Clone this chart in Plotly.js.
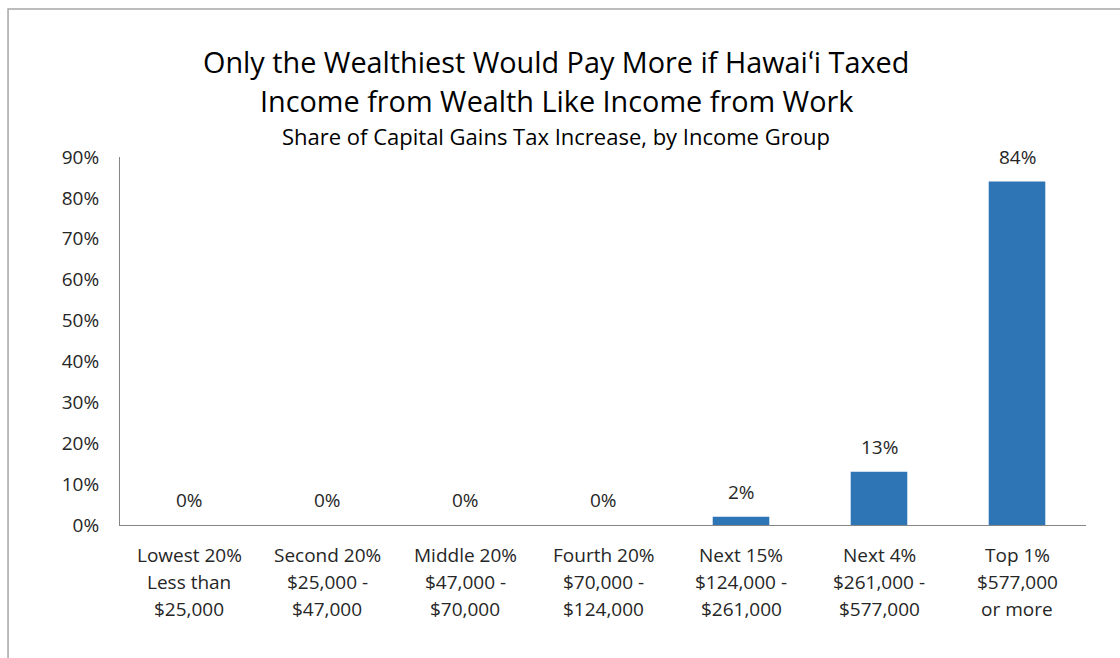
<!DOCTYPE html>
<html>
<head>
<meta charset="utf-8">
<script src="https://cdn.plot.ly/plotly-3.0.1.min.js"></script>
<style>
html,body{margin:0;padding:0;background:#fff;}
#chart{width:1120px;height:658px;}
</style>
</head>
<body>
<div id="chart"></div>
<script>
const groups = ["Lowest 20%", "Second 20%", "Middle 20%", "Fourth 20%", "Next 15%", "Next 4%", "Top 1%"];
const rangeLine1 = ["Less than", "$25,000 -", "$47,000 -", "$70,000 -", "$124,000 -", "$261,000 -", "$577,000"];
const rangeLine2 = ["$25,000", "$47,000", "$70,000", "$124,000", "$261,000", "$577,000", "or more"];
const shares = [0, 0, 0, 0, 2, 13, 84];
const yTicks = [0, 10, 20, 30, 40, 50, 60, 70, 80, 90];
const titleLines = ["Only the Wealthiest Would Pay More if Hawaiʻi Taxed", "Income from Wealth Like Income from Work"];
const subtitle = "Share of Capital Gains Tax Increase, by Income Group";

const FONT = "'Open Sans', Lato, sans-serif";
const TXT = "#262626";
const SMALL = 19;

const trace = {
  type: "bar",
  x: groups,
  y: shares,
  marker: {color: "#2E75B6"},
  hoverinfo: "x+y"
};

const annotations = [];
shares.forEach((v, i) => {
  annotations.push({
    x: groups[i], y: v, xref: "x", yref: "y",
    text: v + "%", showarrow: false, yanchor: "middle", yshift: 25,
    font: {family: FONT, size: SMALL, color: TXT}
  });
});
const labelLines = [groups, rangeLine1, rangeLine2];
labelLines.forEach((arr, li) => {
  arr.forEach((t, i) => {
    annotations.push({
      x: groups[i], y: 0, xref: "x", yref: "y",
      text: t, showarrow: false, yanchor: "middle", yshift: -30 - 27 * li,
      font: {family: FONT, size: SMALL, color: TXT}
    });
  });
});
annotations.push({
  text: titleLines[0], xref: "paper", yref: "paper", x: 0.4515, y: 1.26, xanchor: "center", yanchor: "middle",
  showarrow: false, font: {family: FONT, size: 28.8, color: "#000"}
});
annotations.push({
  text: titleLines[1], xref: "paper", yref: "paper", x: 0.4515, y: 1.154, xanchor: "center", yanchor: "middle",
  showarrow: false, font: {family: FONT, size: 28.8, color: "#000"}
});
annotations.push({
  text: subtitle, xref: "paper", yref: "paper", x: 0.4515, y: 1.057, xanchor: "center", yanchor: "middle",
  showarrow: false, font: {family: FONT, size: 22, color: "#000"}
});

const layout = {
  width: 1120, height: 658,
  margin: {l: 120, r: 34, t: 157, b: 133},
  paper_bgcolor: "#fff", plot_bgcolor: "#fff",
  showlegend: false,
  bargap: 0.59,
  font: {family: FONT, size: SMALL, color: TXT},
  xaxis: {
    type: "category",
    showticklabels: false,
    showline: true, linecolor: "#868686", linewidth: 1,
    ticks: "", showgrid: false, zeroline: false
  },
  yaxis: {
    range: [0, 90], tickvals: yTicks, ticktext: yTicks.map(t => t + "%"),
    showline: true, linecolor: "#868686", linewidth: 1,
    ticks: "", showgrid: false, zeroline: false,
    ticklabelstandoff: 16,
    tickfont: {family: FONT, size: SMALL, color: TXT}
  },
  annotations: annotations,
  shapes: [{
    type: "rect", xref: "paper", yref: "paper",
    x0: -0.1159, x1: 1.2, y0: -0.5, y1: 1.402,
    line: {color: "#a6a6a6", width: 1.5}, fillcolor: "rgba(0,0,0,0)", layer: "below"
  }]
};

Plotly.newPlot("chart", [trace], layout, {displayModeBar: false, staticPlot: true});
</script>
</body>
</html>
